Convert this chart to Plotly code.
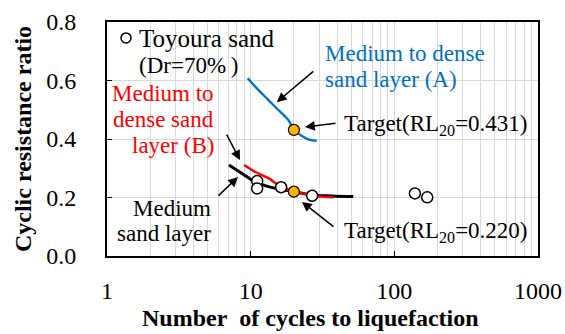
import math
import plotly.graph_objects as go

# ---- data ----
a_n = [9.53, 11.3, 13.3, 15.6, 18.3, 20.0, 23.2, 25.9, 28.8]
a_r = [0.608, 0.568, 0.533, 0.499, 0.465, 0.431, 0.408, 0.397, 0.394]

b_n = [9.02, 10.7, 13.3, 15.6, 20.0, 26.6, 31.2, 37.6]
b_r = [0.311, 0.288, 0.266, 0.243, 0.220, 0.2085, 0.203, 0.2006]

m_n = [7.06, 8.65, 10.7, 13.3, 16.4, 20.0, 26.6, 36.6, 51.8]
m_r = [0.311, 0.283, 0.254, 0.237, 0.228, 0.220, 0.2085, 0.205, 0.203]

toy_n = [11.1, 11.1, 16.3, 26.8, 139.0, 169.4]
toy_r = [0.256, 0.231, 0.235, 0.206, 0.214, 0.2006]

target_n = [20.0, 20.0]
target_r = [0.431, 0.220]

x_ticks = [1, 10, 100, 1000]
x_tick_labels = ["1", "10", "100", "1000"]
y_ticks = [0.0, 0.2, 0.4, 0.6, 0.8]
y_tick_labels = ["0.0", "0.2", "0.4", "0.6", "0.8"]

FONT = "Liberation Serif"
BLUE = "#0070C0"
RED = "#FF0000"
GOLD = "#FFB300"

fig = go.Figure()
fig.add_trace(go.Scatter(x=a_n, y=a_r, mode="lines", line=dict(color=BLUE, width=2.3),
                         line_shape="spline", showlegend=False))
fig.add_trace(go.Scatter(x=m_n, y=m_r, mode="lines", line=dict(color="black", width=3),
                         line_shape="spline", showlegend=False))
fig.add_trace(go.Scatter(x=b_n, y=b_r, mode="lines", line=dict(color=RED, width=2.5),
                         line_shape="spline", showlegend=False))
fig.add_trace(go.Scatter(x=toy_n, y=toy_r, mode="markers",
                         marker=dict(symbol="circle", size=11, color="white",
                                     line=dict(color="black", width=1.5)),
                         showlegend=False))
fig.add_trace(go.Scatter(x=target_n, y=target_r, mode="markers",
                         marker=dict(symbol="circle", size=11, color=GOLD,
                                     line=dict(color="black", width=1.2)),
                         showlegend=False))

# legend key (paper coordinates)
fig.add_shape(type="circle", xref="paper", yref="paper", xsizemode="pixel", ysizemode="pixel",
              xanchor=0.0441, yanchor=0.932, x0=-5, x1=5, y0=-5, y1=5,
              line=dict(color="black", width=1.5), fillcolor="white")

def txt(x, y, text, color="black", xanchor="left", size=23):
    fig.add_annotation(x=x, y=y, xref="x", yref="y", text=text, showarrow=False,
                       xanchor=xanchor, yanchor="middle",
                       font=dict(family=FONT, size=size, color=color))

def arrow(x, y, ax, ay):
    fig.add_annotation(x=x, y=y, xref="x", yref="y", text="", showarrow=True,
                       ax=ax, ay=ay, arrowhead=2, arrowsize=1.3, arrowwidth=1.5,
                       arrowcolor="black", font=dict(family=FONT, size=12))

# legend text
txt(0.2088, 0.742, "Toyoura sand", size=25)
txt(0.2088, 0.650, "(Dr=70%\u2009)", size=23)

txt(1.503, 0.694, "Medium to dense", color=BLUE)
txt(1.503, 0.602, "sand layer (A)", color=BLUE)
txt(1.635, 0.448, "Target(RL<sub>20</sub>=0.431)")
txt(0.759, 0.557, "Medium to", color=RED, xanchor="right")
txt(0.759, 0.465, "dense sand", color=RED, xanchor="right")
txt(0.759, 0.379, "layer (B)", color=RED, xanchor="right")
txt(0.738, 0.164, "Medium", xanchor="right")
txt(0.738, 0.0786, "sand layer", xanchor="right")
txt(1.635, 0.082, "Target(RL<sub>20</sub>=0.220)")

arrow(math.log10(15.2), 0.526, 38, -32)
arrow(math.log10(23.9), 0.441, 32, -4)
arrow(math.log10(8.42), 0.328, -14, -27)
arrow(math.log10(8.16), 0.270, -21, 20)
arrow(math.log10(22.75), 0.185, 33, 26)

# x-axis title as paper annotation (reference places it slightly left of centre)
fig.add_annotation(x=0.473, y=-0.265, xref="paper", yref="paper",
                   text="<b>Number\u00a0 of cycles to liquefaction</b>", showarrow=False,
                   xanchor="center", yanchor="middle",
                   font=dict(family=FONT, size=24, color="black"))

fig.update_xaxes(type="log", range=[0, 3], tickvals=x_ticks, ticktext=x_tick_labels,
                 ticks="inside", ticklen=5, tickcolor="black", tickwidth=1,
                 showgrid=True, gridcolor="#d9d9d9", gridwidth=1,
                 minor=dict(showgrid=True, gridcolor="#d9d9d9", gridwidth=1,
                            dtick="D1", ticks=""),
                 showline=True, linecolor="black", linewidth=2, mirror=True,
                 tickfont=dict(family=FONT, size=24, color="black"),
                 ticklabelstandoff=12, automargin=False,
                 zeroline=False)
fig.update_yaxes(range=[0, 0.8], tickvals=y_ticks, ticktext=y_tick_labels,
                 ticks="inside", ticklen=5, tickcolor="black", tickwidth=1,
                 showgrid=True, gridcolor="#d9d9d9", gridwidth=1,
                 showline=True, linecolor="black", linewidth=2, mirror=True,
                 tickfont=dict(family=FONT, size=24, color="black"),
                 ticklabelstandoff=24, automargin=False,
                 title=dict(text="Cyclic resistance ratio", standoff=8,
                            font=dict(family=FONT, size=24, color="black", weight="bold")),
                 zeroline=False)

fig.update_layout(width=565, height=334, margin=dict(l=107, r=27, t=22, b=78),
                  font=dict(family=FONT, color="black"),
                  paper_bgcolor="white", plot_bgcolor="white", showlegend=False)

fig.write_html("out.html")
